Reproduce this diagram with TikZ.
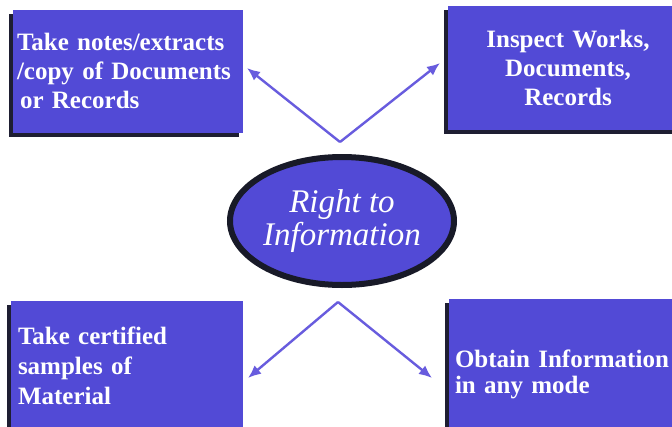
\documentclass[tikz,border=0pt]{standalone}
\usepackage{fontspec}
\setmainfont{Liberation Serif}
\usetikzlibrary{shapes.geometric,arrows.meta,shadows}
\definecolor{boxblue}{RGB}{82,74,214}
\definecolor{shadowc}{RGB}{30,30,50}
\definecolor{arrowc}{RGB}{104,92,222}
\definecolor{rimc}{RGB}{24,26,40}
\tikzset{
  infobox/.style={rectangle, fill=boxblue, inner sep=0pt, text=white,
    font=\bfseries\fontsize{25}{29}\selectfont,
    general shadow={fill=shadowc, shadow xshift=-4pt, shadow yshift=-4pt}},
  centre/.style={ellipse, fill=boxblue, draw=rimc, line width=6pt, inner sep=0pt,
    minimum width=224pt, minimum height=128pt, text=white,
    font=\itshape\fontsize{33}{33}\selectfont, align=center},
  conn/.style={draw=arrowc, line width=2.4pt, -{Latex[length=13pt,width=11pt]}}
}
\begin{document}
\begin{tikzpicture}[x=1pt,y=-1pt]
\useasboundingbox (0,0) rectangle (672,426);
\fill[white] (0,0) rectangle (672,426);

\node[infobox, minimum width=230pt, minimum height=123pt, align=left,
      text width=222pt] (tl) at (128,71)
  {Take notes/extracts\\/copy of Documents\\\hspace*{3pt}or Records};
\node[infobox, minimum width=240pt, minimum height=124pt, align=center,
      text width=240pt] (tr) at (568,68)
  {Inspect Works,\\Documents,\\Records};
\node[infobox, minimum width=232pt, minimum height=130pt, align=left,
      text width=218pt, font=\bfseries\fontsize{25}{30}\selectfont] (bl) at (127,366)
  {Take certified\\samples of\\Material};
\node[infobox, minimum width=240pt, minimum height=150pt, align=left,
      text width=228pt, font=\bfseries\fontsize{25}{26}\selectfont] (br) at (569,374)
  {Obtain Information\\in any mode};

\node[centre] (rti) at (342,221) {Right to\\Information};

\coordinate (topapex) at (340,142);
\coordinate (botapex) at (338,302);
\coordinate (tltip) at (247,68);
\coordinate (trtip) at (440,63);
\coordinate (bltip) at (248,378);
\coordinate (brtip) at (432,378);

\draw[conn] (topapex) -- (tltip);
\draw[conn] (topapex) -- (trtip);
\draw[conn] (botapex) -- (bltip);
\draw[conn] (botapex) -- (brtip);
\end{tikzpicture}
\end{document}
